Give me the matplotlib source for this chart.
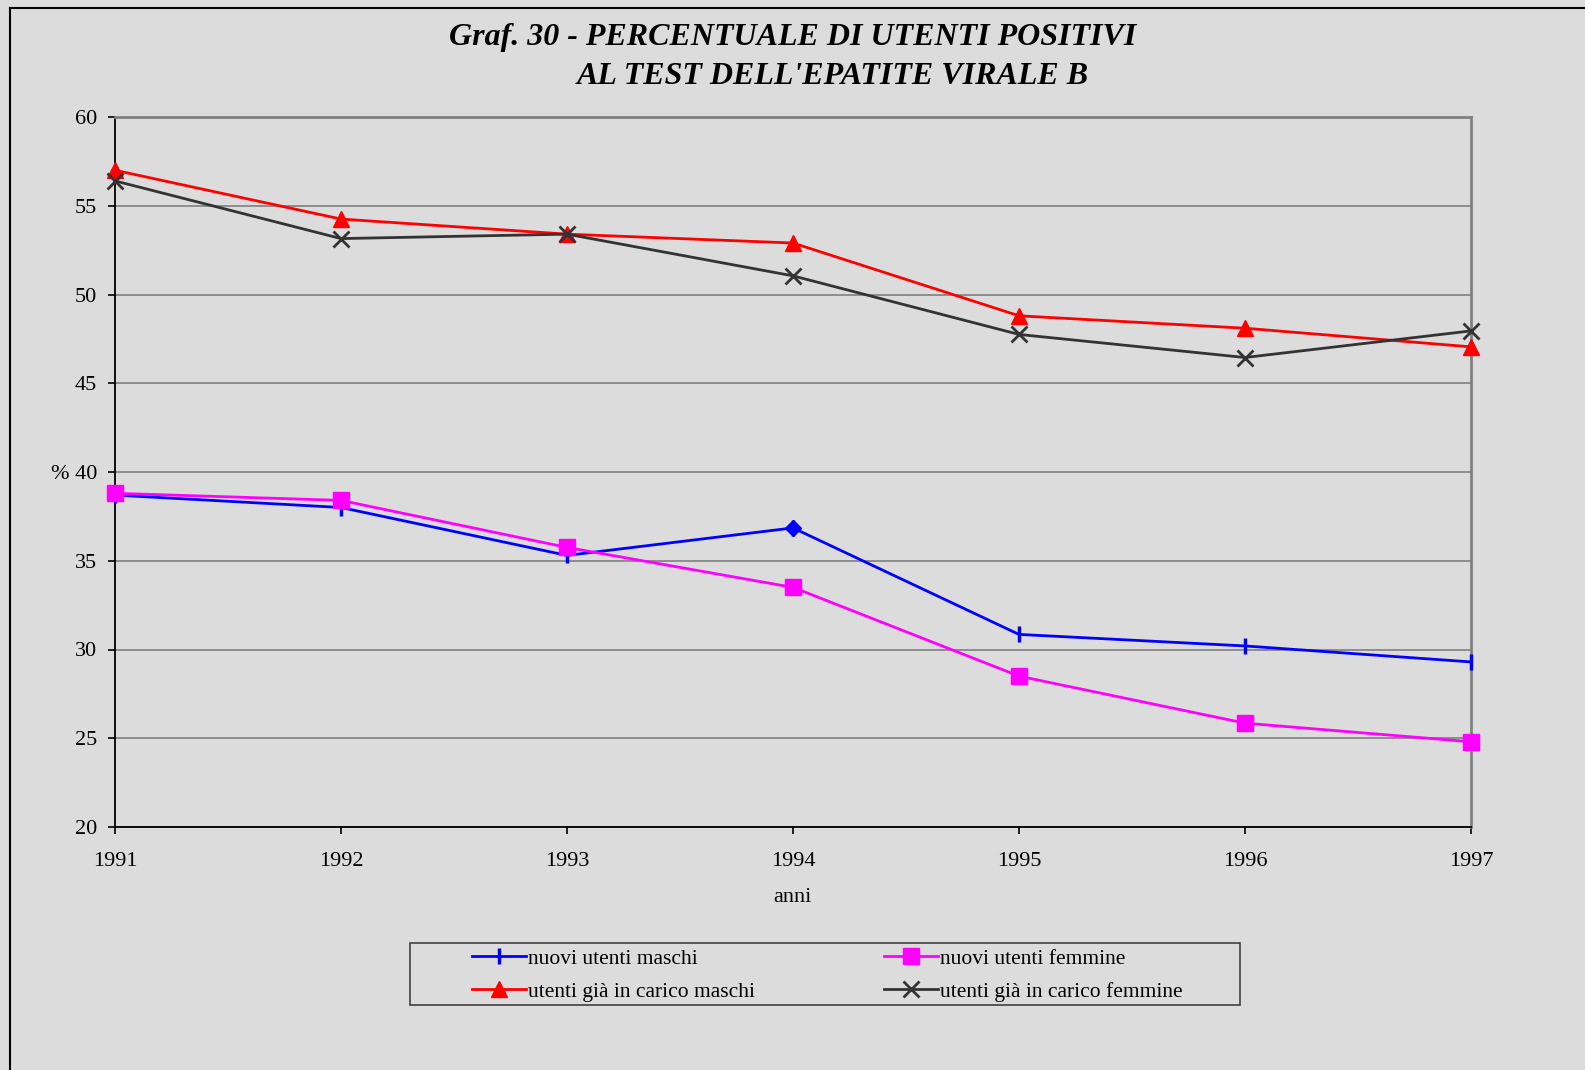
import matplotlib.pyplot as plt
from matplotlib.lines import Line2D
from matplotlib.patches import Rectangle

# percentuale di utenti positivi al test dell'epatite B, per anno
anni = [1991, 1992, 1993, 1994, 1995, 1996, 1997]
nuovi_maschi = [38.7, 38.0, 35.3, 36.85, 30.85, 30.2, 29.3]
nuovi_femmine = [38.8, 38.4, 35.75, 33.5, 28.5, 25.85, 24.8]
carico_maschi = [57.0, 54.25, 53.4, 52.9, 48.8, 48.1, 47.05]
carico_femmine = [56.4, 53.15, 53.4, 51.05, 47.75, 46.45, 47.95]

yticks = [20, 25, 30, 35, 40, 45, 50, 55, 60]
ytick_labels = ['20', '25', '30', '35', '% 40', '45', '50', '55', '60']

plt.rcParams['font.family'] = ['Liberation Serif', 'DejaVu Serif']

W, H = 1585, 1070
fig = plt.figure(figsize=(W / 100, H / 100), dpi=100)
fig.patch.set_facecolor('#dcdcdc')

ax = fig.add_axes([115 / W, 1 - 827 / H, (1471 - 115) / W, (827 - 117) / H])
ax.set_facecolor('#dcdcdc')

l_nm, = ax.plot(anni, nuovi_maschi, color='#0000ff', lw=2, marker='|', ms=11, mew=2.5,
                label='nuovi utenti maschi', zorder=3, clip_on=False)
# punto 1994 evidenziato a rombo
ax.plot(anni[3], nuovi_maschi[3], color='#0000ff', marker='D', ms=8, zorder=4)
l_nf, = ax.plot(anni, nuovi_femmine, color='#ff00ff', lw=2, marker='s', ms=11,
                label='nuovi utenti femmine', zorder=3, clip_on=False)
l_cm, = ax.plot(anni, carico_maschi, color='#ff0000', lw=2, marker='^', ms=11,
                label='utenti già in carico maschi', zorder=3, clip_on=False)
l_cf, = ax.plot(anni, carico_femmine, color='#333333', lw=2, marker='x', ms=11, mew=2,
                label='utenti già in carico femmine', zorder=3, clip_on=False)

ax.set_xlim(anni[0], anni[-1])
ax.set_ylim(20, 60)
ax.set_xticks(anni)
ax.set_yticks(yticks)
ax.set_yticklabels(ytick_labels)
ax.yaxis.grid(True, color='#808080', lw=1.2)
ax.set_axisbelow(True)
ax.tick_params(axis='both', direction='out', length=5, width=1.2, color='black',
               labelsize=16)
ax.tick_params(axis='y', pad=8)
ax.tick_params(axis='x', pad=13)
for s in ('left', 'bottom'):
    ax.spines[s].set_color('black')
    ax.spines[s].set_linewidth(1.3)
for s in ('top', 'right'):
    ax.spines[s].set_color('#808080')
    ax.spines[s].set_linewidth(2)

fig.text(792 / W, 1 - 898 / H, 'anni', ha='center', va='center', fontsize=16)

fig.text(793 / W, 1 - 37 / H, 'Graf. 30 - PERCENTUALE DI UTENTI POSITIVI',
         ha='center', va='center', fontsize=23, fontweight='bold', fontstyle='italic')
fig.text(833 / W, 1 - 77 / H, "AL TEST DELL'EPATITE VIRALE B",
         ha='center', va='center', fontsize=23, fontweight='bold', fontstyle='italic')

# riquadro della legenda
fig.patches.append(Rectangle((410 / W, 1 - 1005 / H), 830 / W, 62 / H,
                             transform=fig.transFigure, facecolor='none',
                             edgecolor='#404040', lw=1.2))
fig.legend([l_nm, l_cm, l_nf, l_cf],
           [l_nm.get_label(), l_cm.get_label(), l_nf.get_label(), l_cf.get_label()],
           ncol=2, frameon=False, fontsize=15.5,
           loc='center left', bbox_to_anchor=(472 / W, 1 - 975 / H),
           handlelength=2.5, handletextpad=0.1, columnspacing=6.0,
           labelspacing=0.6, borderpad=0, borderaxespad=0)

# cornice esterna (solo lati superiore e sinistro)
fig.add_artist(Line2D([10 / W, 10 / W], [0, 1 - 8 / H], transform=fig.transFigure,
                      color='black', lw=1.5))
fig.add_artist(Line2D([10 / W, 1], [1 - 8 / H, 1 - 8 / H], transform=fig.transFigure,
                      color='black', lw=1.5))

fig.savefig('out.png', dpi=100, facecolor=fig.get_facecolor())
